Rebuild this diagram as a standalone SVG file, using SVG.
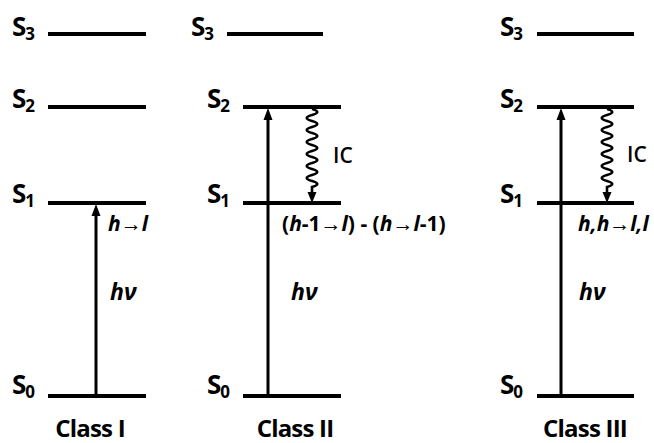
<svg xmlns="http://www.w3.org/2000/svg" width="654" height="443" viewBox="0 0 654 443">
<style>
.lvl{stroke:#000;stroke-width:4;fill:none}
.arr{stroke:#000;stroke-width:3;fill:none}
.wav{stroke:#000;stroke-width:2.6;fill:none}
.t{font-family:"Open Sans","Liberation Sans",sans-serif;font-weight:700;fill:#000}
.s{font-size:26px;letter-spacing:-1px}
.sub{font-size:17px}
.cls{font-size:24px;text-anchor:middle;letter-spacing:-0.8px}
.hv{font-size:23px;font-style:italic}
.lab{font-size:21px}
.i{font-style:italic}
.ic{font-size:21px;font-weight:600}
</style>
<defs>
<path id="wave" d="M0 0 c7 2 7 4 0 6 c-7 2 -7 4 0 6 c7 2 7 4 0 6 c-7 2 -7 4 0 6 c7 2 7 4 0 6 c-7 2 -7 4 0 6 c7 2 7 4 0 6 c-7 2 -7 4 0 6 c7 2 7 4 0 6 c-7 2 -7 4 0 6 c7 2 7 4 0 6 c-7 2 -7 4 0 6 c7 2 7 4 0 6 l0 6"/>
</defs>
<g id="class1">
<g id="c1-levels">
<line class="lvl" x1="48" y1="34" x2="146" y2="34"/>
<line class="lvl" x1="48" y1="107" x2="146" y2="107"/>
<line class="lvl" x1="48" y1="203" x2="146" y2="203"/>
<line class="lvl" x1="48" y1="396" x2="146" y2="396"/>
</g>
<text class="t s" x="12" y="36">S<tspan class="sub" dy="4">3</tspan></text>
<text class="t s" x="12" y="108">S<tspan class="sub" dy="4">2</tspan></text>
<text class="t s" x="12" y="203">S<tspan class="sub" dy="4">1</tspan></text>
<text class="t s" x="12" y="394">S<tspan class="sub" dy="4">0</tspan></text>
<text class="t cls" x="90" y="437">Class I</text>
</g>
<g id="class2">
<line class="lvl" x1="227" y1="34" x2="323" y2="34"/>
<line class="lvl" x1="243" y1="107" x2="341" y2="107"/>
<line class="lvl" x1="243" y1="203" x2="341" y2="203"/>
<line class="lvl" x1="243" y1="396" x2="341" y2="396"/>
<text class="t s" x="191" y="36">S<tspan class="sub" dy="4">3</tspan></text>
<text class="t s" x="207" y="108">S<tspan class="sub" dy="4">2</tspan></text>
<text class="t s" x="207" y="203">S<tspan class="sub" dy="4">1</tspan></text>
<text class="t s" x="207" y="394">S<tspan class="sub" dy="4">0</tspan></text>
<text class="t cls" x="295" y="437">Class II</text>
</g>
<g id="class3">
<line class="lvl" x1="537" y1="34" x2="634" y2="34"/>
<line class="lvl" x1="537" y1="107" x2="634" y2="107"/>
<line class="lvl" x1="537" y1="203" x2="634" y2="203"/>
<line class="lvl" x1="537" y1="396" x2="634" y2="396"/>
<text class="t s" x="500" y="36">S<tspan class="sub" dy="4">3</tspan></text>
<text class="t s" x="500" y="108">S<tspan class="sub" dy="4">2</tspan></text>
<text class="t s" x="500" y="203">S<tspan class="sub" dy="4">1</tspan></text>
<text class="t s" x="500" y="394">S<tspan class="sub" dy="4">0</tspan></text>
<text class="t cls" x="585" y="437">Class III</text>
</g>
<g id="connectors">
<line class="arr" x1="96" y1="396" x2="96" y2="212"/>
<polygon points="96,204 91.5,216 100.5,216"/>
<text class="t hv" x="110" y="300">hν</text>
<text class="t lab i" x="108" y="231">h→l</text>

<line class="arr" x1="268" y1="396" x2="268" y2="116"/>
<polygon points="268,108 263.5,120 272.5,120"/>
<use href="#wave" x="312" y="109" class="wav"/>
<polygon points="312,203 307.5,192 316.5,192"/>
<text class="t ic" x="333" y="163">IC</text>
<text class="t hv" x="291" y="300">hν</text>
<text class="t lab" x="282" y="231">(<tspan class="i">h</tspan>-1→<tspan class="i">l</tspan>) - (<tspan class="i">h</tspan>→<tspan class="i">l</tspan>-1)</text>

<line class="arr" x1="561" y1="396" x2="561" y2="116"/>
<polygon points="561,108 556.5,120 565.5,120"/>
<use href="#wave" x="607" y="109" class="wav"/>
<polygon points="607,203 602.5,192 611.5,192"/>
<text class="t ic" x="627" y="162">IC</text>
<text class="t hv" x="579" y="300">hν</text>
<text class="t lab i" x="578" y="231">h,h→l,l</text>
</g>
</svg>
